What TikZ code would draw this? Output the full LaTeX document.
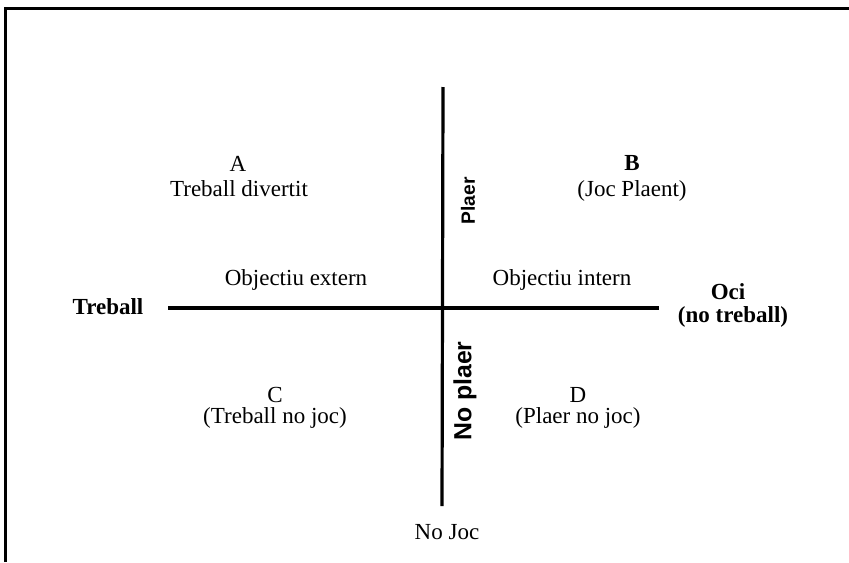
\documentclass[tikz,border=0pt]{standalone}
\usepackage{fontspec}
\setmainfont{Liberation Serif}
\newfontfamily\lsans{Liberation Sans}
\begin{document}
\begin{tikzpicture}[x=0.5pt,y=-0.5pt,
  lbl/.style={inner sep=0pt,font=\fontsize{11.5}{13}\selectfont},
  blbl/.style={inner sep=0pt,font=\fontsize{11.5}{13}\selectfont\bfseries},
  axis/.style={line width=1.6pt},
  frame/.style={line width=1.5pt}]
\useasboundingbox (0,0) rectangle (849,562);
\draw[frame] (5,562) -- (5,8) -- (849,8);
% axes
\coordinate (vt) at (443,87);
\coordinate (vb) at (442,506);
\coordinate (hl) at (168,308);
\coordinate (hr) at (659,308);
\draw[axis] (vt) -- (vb);
\draw[axis] (hl) -- (hr);
% quadrant A
\node[lbl] (A) at (238,164) {A};
\node[lbl] (At) at (239,189) {Treball divertit};
% quadrant B
\node[blbl] (B) at (632,163) {B};
\node[lbl] (Bt) at (632,191) {(Joc Plaent)};
% quadrant C
\node[lbl] (C) at (275,395) {C};
\node[lbl] (Ct) at (275,418) {(Treball no joc)};
% quadrant D
\node[lbl] (D) at (578,395) {D};
\node[lbl] (Dt) at (578,418) {(Plaer no joc)};
% axis labels
\node[lbl] (oe) at (296,280) {Objectiu extern};
\node[lbl] (oi) at (562,280) {Objectiu intern};
\node[blbl] (tr) at (108,307) {Treball};
\node[blbl] (oci) at (728,292) {Oci};
\node[blbl] (nt) at (733,317) {(no treball)};
\node[lbl] (nj) at (447,532) {No Joc};
\node[inner sep=0pt,rotate=90,font=\fontsize{9.6}{11}\lsans\bfseries] (pl) at (468,201) {Plaer};
\node[inner sep=0pt,rotate=90,font=\fontsize{12.4}{14}\lsans\bfseries] (npl) at (465,391) {No plaer};
\end{tikzpicture}
\end{document}
